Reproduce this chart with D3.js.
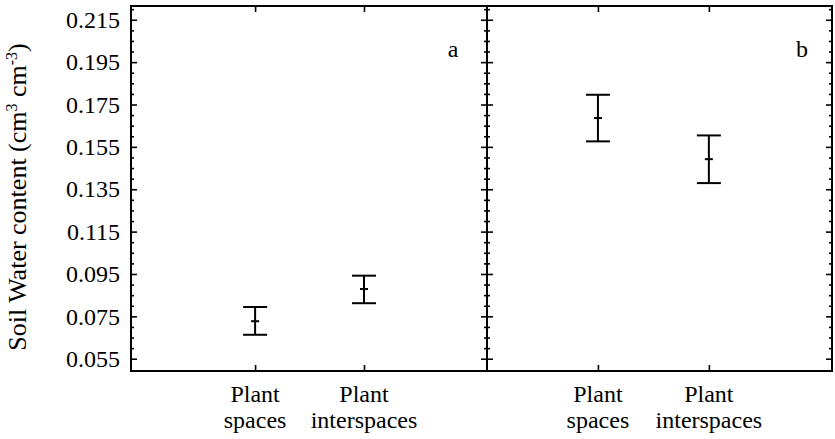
<!DOCTYPE html>
<html>
<head>
<meta charset="utf-8">
<script src="https://cdn.jsdelivr.net/npm/d3@7"></script>
<style>
  body { margin: 0; background: #fff; }
  .domain { display: none; }
  .tick line { stroke: #000; stroke-width: 1.6; }
</style>
</head>
<body>
<svg id="chart" width="835" height="439" font-family="'Liberation Serif', 'Times New Roman', 'DejaVu Serif', serif"></svg>
<script>
// categories and values
var categories = ['Plant spaces', 'Plant interspaces'];
var panelLabels = ['a', 'b'];
var meanA = [0.0727, 0.0879];
var upperA = [0.0794, 0.0942];
var lowerA = [0.0663, 0.0812];
var meanB = [0.1686, 0.1492];
var upperB = [0.1796, 0.1604];
var lowerB = [0.1576, 0.1379];
var yMajor = [0.055, 0.075, 0.095, 0.115, 0.135, 0.155, 0.175, 0.195, 0.215];
var yMinor = d3.range(0.06, 0.2201, 0.005).filter(function(v){
    return yMajor.every(function(m){ return Math.abs(m - v) > 0.001; });
});

var serif = "'Liberation Serif', 'Times New Roman', 'DejaVu Serif', serif";
var svg = d3.select('#chart');
var plotTop = 6, plotBottom = 371;

var y = d3.scaleLinear().domain([0.0492, 0.2215]).range([plotBottom, plotTop]);

var panels = [
    {x0: 131, x1: 487, dom: [-0.14, 3.13], mean: meanA, up: upperA, lo: lowerA, label: panelLabels[0], lx: 453},
    {x0: 487, x1: 832, dom: [0.0, 3.11], mean: meanB, up: upperB, lo: lowerB, label: panelLabels[1], lx: 802}
];

panels.forEach(function(p, pi){
    var x = d3.scaleLinear().domain(p.dom).range([p.x0, p.x1]);
    var g = svg.append('g');

    // ticks on all four sides, pointing inward
    var ax = g.append('g').attr('transform', 'translate(' + p.x0 + ',0)')
        .call(d3.axisLeft(y).tickValues(yMajor).tickSize(-6).tickPadding(pi === 0 ? 11 : 0)
            .tickFormat(pi === 0 ? d3.format('.3f') : function(){ return ''; }));
    ax.attr('font-family', serif).attr('font-size', 24);
    g.append('g').attr('transform', 'translate(' + p.x0 + ',0)')
        .call(d3.axisLeft(y).tickValues(yMinor).tickSize(-3).tickFormat(''));
    g.append('g').attr('transform', 'translate(' + p.x1 + ',0)')
        .call(d3.axisRight(y).tickValues(yMajor).tickSize(-6).tickFormat(''));
    g.append('g').attr('transform', 'translate(' + p.x1 + ',0)')
        .call(d3.axisRight(y).tickValues(yMinor).tickSize(-3).tickFormat(''));

    g.append('g').attr('transform', 'translate(0,' + plotBottom + ')')
        .call(d3.axisBottom(x).tickValues([1, 2]).tickSize(-6).tickFormat(''));
    g.append('g').attr('transform', 'translate(0,' + plotTop + ')')
        .call(d3.axisTop(x).tickValues([1, 2]).tickSize(-6).tickFormat(''));

    // frame
    g.append('rect')
        .attr('x', p.x0).attr('y', plotTop)
        .attr('width', p.x1 - p.x0).attr('height', plotBottom - plotTop)
        .attr('fill', 'none').attr('stroke', '#000').attr('stroke-width', 2);

    // category labels, two lines
    categories.forEach(function(c, i){
        var words = c.split(' ');
        var t = g.append('text').attr('text-anchor', 'middle')
            .attr('font-family', serif).attr('font-size', 24);
        t.append('tspan').attr('x', x(i + 1)).attr('y', 402).text(words[0]);
        t.append('tspan').attr('x', x(i + 1)).attr('y', 428).text(words[1]);
    });

    // error bars
    var eb = g.selectAll('.eb').data(p.mean).enter().append('g')
        .attr('stroke', '#000').attr('stroke-width', 2);
    eb.append('line')
        .attr('x1', function(d, i){ return x(i + 1); })
        .attr('x2', function(d, i){ return x(i + 1); })
        .attr('y1', function(d, i){ return y(p.up[i]); })
        .attr('y2', function(d, i){ return y(p.lo[i]); });
    eb.append('line')
        .attr('x1', function(d, i){ return x(i + 1) - 12; })
        .attr('x2', function(d, i){ return x(i + 1) + 12; })
        .attr('y1', function(d, i){ return y(p.up[i]); })
        .attr('y2', function(d, i){ return y(p.up[i]); });
    eb.append('line')
        .attr('x1', function(d, i){ return x(i + 1) - 12; })
        .attr('x2', function(d, i){ return x(i + 1) + 12; })
        .attr('y1', function(d, i){ return y(p.lo[i]); })
        .attr('y2', function(d, i){ return y(p.lo[i]); });
    eb.append('line')
        .attr('x1', function(d, i){ return x(i + 1) - 4; })
        .attr('x2', function(d, i){ return x(i + 1) + 4; })
        .attr('y1', function(d){ return y(d); })
        .attr('y2', function(d){ return y(d); });

    g.append('text').attr('x', p.lx).attr('y', 57)
        .attr('text-anchor', 'middle').attr('font-family', serif).attr('font-size', 24).text(p.label);
});

// y axis title
var yt = svg.append('text')
    .attr('transform', 'translate(26,197) rotate(-90)')
    .attr('text-anchor', 'middle').attr('font-family', serif).attr('font-size', 26);
yt.append('tspan').text('Soil Water content (cm');
yt.append('tspan').attr('dy', -9).attr('font-size', 16).text('3');
yt.append('tspan').attr('dy', 9).text(' cm');
yt.append('tspan').attr('dy', -9).attr('font-size', 16).text('-3');
yt.append('tspan').attr('dy', 9).text(')');
</script>
</body>
</html>
